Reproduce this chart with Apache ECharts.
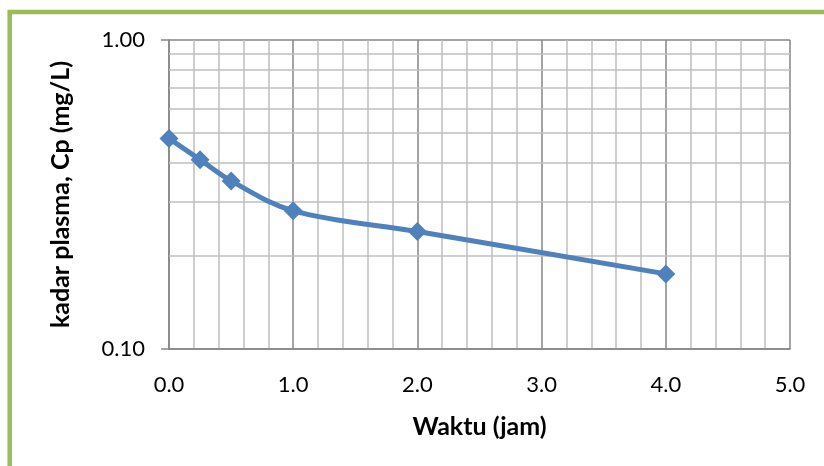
<!DOCTYPE html>
<html>
<head>
<meta charset="utf-8">
<script src="https://cdn.jsdelivr.net/npm/echarts@6/dist/echarts.min.js"></script>
<style>
html,body{margin:0;padding:0;background:#fff;}
#chart{width:824px;height:466px;}
</style>
</head>
<body>
<div id="chart"></div>
<script>
// Data
var timeHours = [0, 0.25, 0.5, 1, 2, 4];
var concentration = [0.48, 0.41, 0.35, 0.28, 0.24, 0.175];
// Minor horizontal log gridlines
var yMinorLines = [0.2, 0.3, 0.4, 0.5, 0.6, 0.7, 0.8, 0.9];
var xAxisTitle = 'Waktu (jam)';
var yAxisTitle = 'kadar plasma, Cp (mg/L)';

var chart = echarts.init(document.getElementById('chart'), null, {renderer: 'canvas'});

var points = timeHours.map(function (t, i) { return [t, concentration[i]]; });

var option = {
  animation: false,
  backgroundColor: '#ffffff',
  graphic: [{
    type: 'rect',
    silent: true,
    z: 100,
    shape: {x: 9.7, y: 12, width: 900, height: 600},
    style: {fill: 'none', stroke: '#9BBB59', lineWidth: 4.5}
  }],
  grid: {left: 169, right: 34, top: 40, bottom: 117, containLabel: false},
  xAxis: {
    type: 'value',
    min: 0, max: 5, interval: 1,
    name: xAxisTitle,
    nameLocation: 'middle',
    nameGap: 65,
    nameTextStyle: {fontFamily: 'Lato', fontWeight: 'bold', fontSize: 25, color: '#000'},
    axisLine: {show: true, lineStyle: {color: '#868686', width: 1.5}},
    axisTick: {show: false},
    axisLabel: {
      fontFamily: 'Lato', fontSize: 22, color: '#000', margin: 25,
      formatter: function (v) { return v.toFixed(1); }
    },
    splitLine: {show: true, lineStyle: {color: '#868686', width: 1.5}},
    minorTick: {show: false, splitNumber: 5},
    minorSplitLine: {show: true, lineStyle: {color: '#BFBFBF', width: 1.5}}
  },
  yAxis: {
    type: 'log',
    logBase: 10,
    min: 0.1, max: 1,
    name: yAxisTitle,
    nameLocation: 'middle',
    nameGap: 96,
    nameTextStyle: {fontFamily: 'Lato', fontWeight: 'bold', fontSize: 25, color: '#000'},
    axisLine: {show: true, lineStyle: {color: '#868686', width: 1.5}},
    axisTick: {show: true, length: 8, inside: false, lineStyle: {color: '#868686', width: 1.5}},
    axisLabel: {
      fontFamily: 'Lato', fontSize: 22, color: '#000', margin: 24,
      formatter: function (v) { return Number(v).toFixed(2); }
    },
    splitLine: {show: true, lineStyle: {color: '#868686', width: 1.5}},
    minorTick: {show: false},
    minorSplitLine: {show: false}
  },
  series: [
    {
      type: 'line',
      name: 'grid',
      data: [],
      silent: true,
      z: 1,
      markLine: {
        silent: true,
        z: 1,
        symbol: ['none', 'none'],
        label: {show: false},
        lineStyle: {color: '#BFBFBF', width: 1.5, type: 'solid'},
        emphasis: {disabled: true},
        data: yMinorLines.map(function (v) { return {yAxis: v}; })
      }
    },
    {
      type: 'line',
      name: 'Cp',
      data: points,
      smooth: 0.35,
      z: 3,
      symbol: 'diamond',
      symbolSize: 19,
      lineStyle: {color: '#4F81BD', width: 5},
      itemStyle: {color: '#4F81BD'}
    }
  ]
};
chart.setOption(option);
</script>
</body>
</html>
